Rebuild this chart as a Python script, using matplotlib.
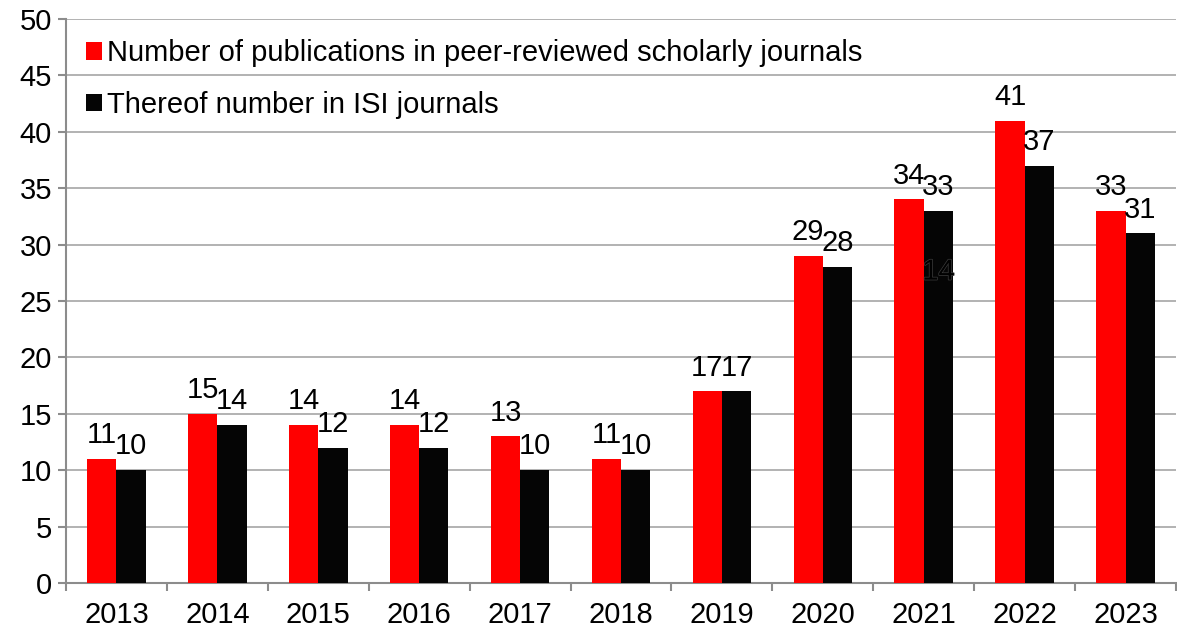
import matplotlib
matplotlib.use("Agg")
import matplotlib.pyplot as plt
import matplotlib.patheffects as pe
import numpy as np

years = ["2013", "2014", "2015", "2016", "2017", "2018", "2019", "2020", "2021", "2022", "2023"]
peer_reviewed = [11, 15, 14, 14, 13, 11, 17, 29, 34, 41, 33]
isi = [10, 14, 12, 12, 10, 10, 17, 28, 33, 37, 31]
series_names = ["Number of publications in peer-reviewed scholarly journals",
                "Thereof number in ISI journals"]
stray_label = {"index": 8, "text": "14", "y": 27.6}

plt.rcParams['font.family'] = ['Liberation Sans', 'DejaVu Sans']

W, H = 1177, 633
fig = plt.figure(figsize=(W / 100, H / 100), dpi=100)
ax = fig.add_axes([66 / W, (H - 583) / H, (1176 - 66) / W, (583 - 19) / H])

x = np.arange(len(years))
bw = 0.29
grey = "#8c8c8c"
fs = 21

ax.set_ylim(0, 50)
ax.set_xlim(-0.5, len(years) - 0.5)
ax.set_yticks(np.arange(0, 51, 5))
ax.yaxis.grid(True, color="#a6a6a6", linewidth=1.2)
ax.set_axisbelow(True)

ax.bar(x - bw / 2, peer_reviewed, width=bw, color="#ff0000", label=series_names[0], zorder=3)
ax.bar(x + bw / 2, isi, width=bw, color="#050505", label=series_names[1], zorder=3)

for xi, v in zip(x, peer_reviewed):
    ax.annotate(str(v), (xi - bw / 2, v), xytext=(0, 7), textcoords="offset points",
                ha="center", va="bottom", fontsize=fs, color="black", zorder=4)
for xi, v in zip(x, isi):
    ax.annotate(str(v), (xi + bw / 2, v), xytext=(0, 7), textcoords="offset points",
                ha="center", va="bottom", fontsize=fs, color="black", zorder=4)

ax.text(stray_label["index"] + bw / 2, stray_label["y"], stray_label["text"],
        ha="center", va="center", fontsize=fs, color="#000000", zorder=4,
        path_effects=[pe.withStroke(linewidth=1.0, foreground="#3c3c3c")])

for s in ["top", "right"]:
    ax.spines[s].set_visible(False)
for s in ["left", "bottom"]:
    ax.spines[s].set_color(grey)
    ax.spines[s].set_linewidth(1.5)

ax.set_xticks(x)
ax.set_xticklabels(years, fontsize=fs)
ax.tick_params(axis="x", which="major", length=0, pad=13)
ax.set_xticks(np.arange(-0.5, len(years), 1), minor=True)
ax.tick_params(axis="x", which="minor", length=6, width=1.5, color=grey, direction="out")
ax.tick_params(axis="y", length=6, width=1.5, color=grey, labelsize=fs, pad=4)

ax.legend(loc="upper left", frameon=False, fontsize=fs, handlelength=0.55,
          handleheight=0.55, handletextpad=0.15, labelspacing=0.8,
          bbox_to_anchor=(0.0, 1.0), borderaxespad=0.3)

fig.savefig("out.png", dpi=100)
